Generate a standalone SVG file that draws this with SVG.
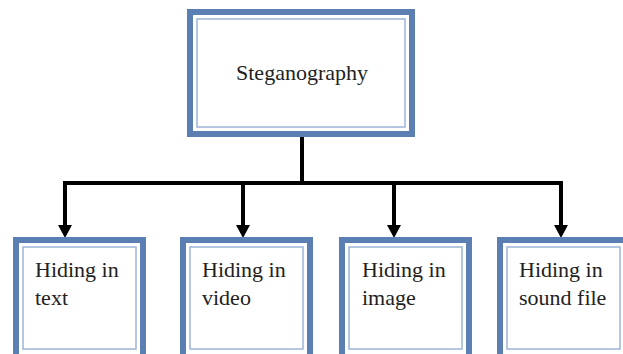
<svg xmlns="http://www.w3.org/2000/svg" width="623" height="354" viewBox="0 0 623 354">
<style>
.outer{fill:#fff;stroke:#5c7fb3;stroke-width:6}
.inner{fill:none;stroke:#9db4d8;stroke-width:1.5}
.t{font-family:"Liberation Serif","Times New Roman",serif;font-size:22px;fill:#222}
.ln{fill:none;stroke:#000;stroke-width:4}
</style>
<defs>
<marker id="ah" viewBox="0 0 12 12" refX="6" refY="12" markerWidth="12" markerHeight="12" markerUnits="userSpaceOnUse" orient="auto-start-reverse">
<path d="M0,0 L12,0 L6,12 Z" fill="#000" transform="rotate(-90 6 6)"/>
</marker>
</defs>
<rect width="623" height="354" fill="#fff"/>
<g id="connectors">
<path class="ln" d="M302,135 V183"/>
<path class="ln" d="M65,183 H561"/>
<path class="ln" d="M65,181 V226"/>
<path class="ln" d="M243,183 V226"/>
<path class="ln" d="M394,183 V226"/>
<path class="ln" d="M561,181 V226"/>
<polygon points="58,225 72,225 65,238" fill="#000"/>
<polygon points="236,225 250,225 243,238" fill="#000"/>
<polygon points="387,225 401,225 394,238" fill="#000"/>
<polygon points="554,225 568,225 561,238" fill="#000"/>
</g>
<g id="steganography">
<rect class="outer" x="190" y="12" width="222" height="122"/>
<rect class="inner" x="197" y="19" width="208" height="108"/>
<text class="t" x="302" y="80" text-anchor="middle">Steganography</text>
</g>
<g id="text">
<rect class="outer" x="16" y="240" width="127" height="120"/>
<rect class="inner" x="23" y="247" width="113" height="102"/>
<text class="t" x="35" y="277">Hiding in</text>
<text class="t" x="35" y="305">text</text>
</g>
<g id="video">
<rect class="outer" x="183" y="240" width="127" height="120"/>
<rect class="inner" x="190" y="247" width="113" height="102"/>
<text class="t" x="202" y="277">Hiding in</text>
<text class="t" x="202" y="305">video</text>
</g>
<g id="image">
<rect class="outer" x="342" y="240" width="127" height="120"/>
<rect class="inner" x="349" y="247" width="113" height="102"/>
<text class="t" x="362" y="277">Hiding in</text>
<text class="t" x="362" y="305">image</text>
</g>
<g id="sound">
<rect class="outer" x="500" y="240" width="127" height="120"/>
<rect class="inner" x="507" y="247" width="113" height="102"/>
<text class="t" x="519" y="277">Hiding in</text>
<text class="t" x="519" y="305">sound file</text>
</g>
</svg>
